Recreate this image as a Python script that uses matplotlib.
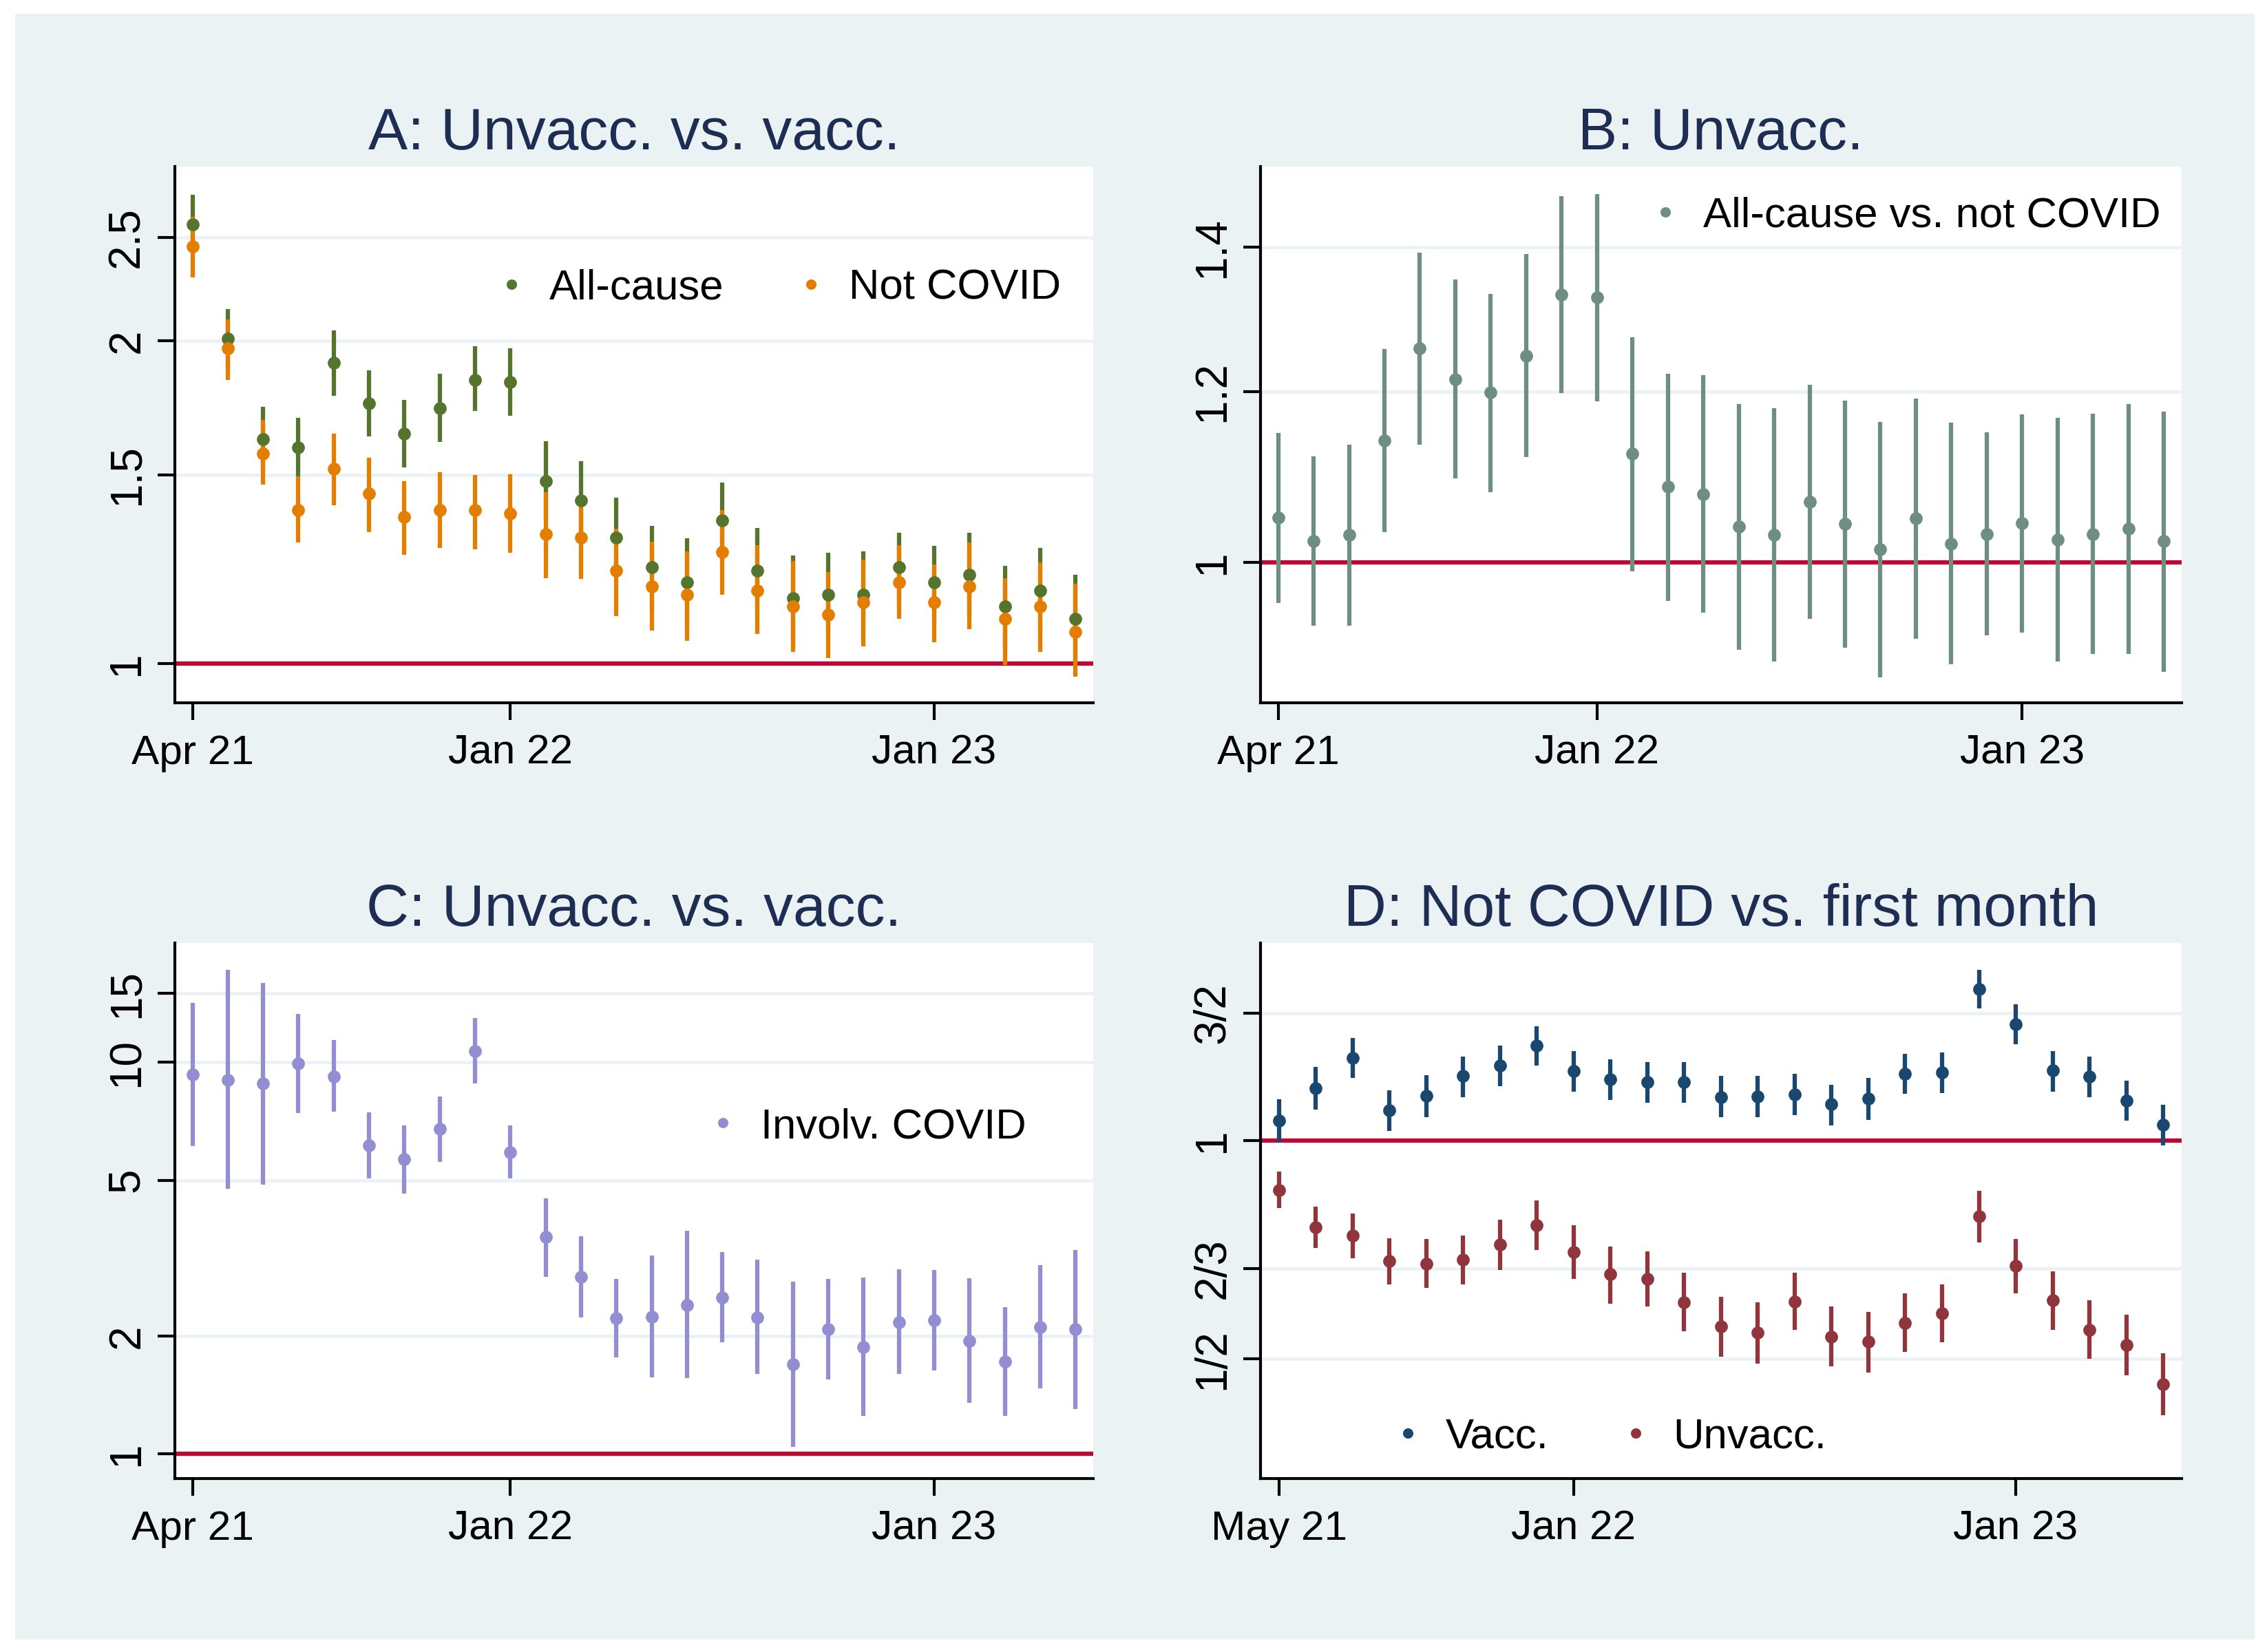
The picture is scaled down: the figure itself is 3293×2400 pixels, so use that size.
import numpy as np
import matplotlib
matplotlib.use('Agg')
import matplotlib.pyplot as plt
from matplotlib.lines import Line2D
from matplotlib.patches import Rectangle
from matplotlib.ticker import NullLocator

plt.rcParams['font.family'] = ['Liberation Sans', 'DejaVu Sans']

# colours (Stata s2color)
BG = '#EAF2F3'
NAVY_T = '#1E2D53'
RED = '#C10534'
GREEN = '#55752F'
ORANGE = '#E37E00'
TEAL = '#6E8E84'
LAVENDER = '#938DD2'
NAVY = '#1A476F'
MAROON = '#90353B'

# --- data: months Apr 2021 - May 2023 (panels A-C), May 2021 - May 2023 (D)
ticks_abc = [0, 9, 21]
ticklabels_abc = ['Apr 21', 'Jan 22', 'Jan 23']
ticks_d = [0, 8, 20]
ticklabels_d = ['May 21', 'Jan 22', 'Jan 23']

# A: unvacc vs vacc, all-cause
a_all = [2.57, 2.01, 1.62, 1.59, 1.91, 1.75, 1.64, 1.73, 1.84, 1.83, 1.48, 1.42, 1.31,
         1.23, 1.19, 1.36, 1.22, 1.15, 1.16, 1.16, 1.23, 1.19, 1.21, 1.13, 1.17, 1.10]
a_all_lo = [2.414, 1.887, 1.516, 1.495, 1.778, 1.628, 1.524, 1.610, 1.720, 1.704, 1.361, 1.310, 1.201,
            1.120, 1.084, 1.245, 1.114, 1.044, 1.067, 1.063, 1.139, 1.093, 1.108, 1.034, 1.068, 0.996]
a_all_hi = [2.737, 2.143, 1.736, 1.696, 2.047, 1.879, 1.762, 1.863, 1.979, 1.969, 1.613, 1.544, 1.428,
            1.344, 1.309, 1.475, 1.338, 1.261, 1.268, 1.273, 1.324, 1.287, 1.324, 1.233, 1.282, 1.210]
# A: not COVID
a_nc = [2.45, 1.97, 1.57, 1.39, 1.52, 1.44, 1.37, 1.39, 1.39, 1.38, 1.32, 1.31, 1.22,
        1.18, 1.16, 1.27, 1.17, 1.13, 1.11, 1.14, 1.19, 1.14, 1.18, 1.10, 1.13, 1.07]
a_nc_lo = [2.294, 1.840, 1.469, 1.297, 1.406, 1.327, 1.264, 1.281, 1.279, 1.268, 1.202, 1.200, 1.108,
           1.074, 1.050, 1.159, 1.065, 1.026, 1.011, 1.038, 1.100, 1.046, 1.076, 0.997, 1.025, 0.972]
a_nc_hi = [2.612, 2.096, 1.687, 1.495, 1.639, 1.556, 1.479, 1.508, 1.499, 1.502, 1.445, 1.436, 1.336,
           1.299, 1.273, 1.390, 1.289, 1.246, 1.218, 1.250, 1.289, 1.237, 1.297, 1.201, 1.242, 1.187]

# B: unvacc, all-cause vs not COVID
b_est = [1.049, 1.023, 1.030, 1.139, 1.257, 1.216, 1.199, 1.247, 1.331, 1.327, 1.123, 1.084, 1.076,
         1.039, 1.030, 1.067, 1.042, 1.014, 1.048, 1.020, 1.031, 1.043, 1.025, 1.031, 1.037, 1.023]
b_lo = [0.958, 0.935, 0.935, 1.033, 1.134, 1.094, 1.078, 1.119, 1.198, 1.188, 0.991, 0.960, 0.948,
        0.911, 0.900, 0.942, 0.913, 0.885, 0.922, 0.897, 0.925, 0.928, 0.900, 0.907, 0.907, 0.890]
b_hi = [1.148, 1.120, 1.134, 1.256, 1.392, 1.353, 1.332, 1.390, 1.478, 1.482, 1.272, 1.223, 1.221,
        1.184, 1.179, 1.209, 1.189, 1.162, 1.191, 1.161, 1.149, 1.171, 1.167, 1.172, 1.184, 1.175]

# C: unvacc vs vacc, involving COVID
c_est = [9.30, 9.03, 8.82, 9.95, 9.22, 6.14, 5.66, 6.77, 10.70, 5.90, 3.58, 2.83, 2.22,
         2.24, 2.40, 2.51, 2.23, 1.69, 2.08, 1.87, 2.17, 2.19, 1.94, 1.72, 2.11, 2.08]
c_lo = [6.12, 4.76, 4.87, 7.42, 7.48, 5.05, 4.63, 5.58, 8.82, 5.05, 2.83, 2.23, 1.76,
        1.57, 1.56, 1.93, 1.60, 1.04, 1.55, 1.25, 1.60, 1.63, 1.35, 1.25, 1.47, 1.30]
c_hi = [14.17, 17.23, 15.96, 13.31, 11.41, 7.46, 6.89, 8.19, 13.0, 6.89, 4.50, 3.59, 2.80,
        3.21, 3.71, 3.27, 3.13, 2.75, 2.80, 2.82, 2.96, 2.95, 2.81, 2.37, 3.03, 3.32]

# D: not COVID vs first month
d_vac = [1.065, 1.180, 1.300, 1.100, 1.152, 1.227, 1.268, 1.351, 1.246, 1.215, 1.203, 1.204, 1.149,
         1.151, 1.158, 1.122, 1.144, 1.236, 1.242, 1.617, 1.446, 1.249, 1.225, 1.135, 1.051]
d_vac_lo = [0.994, 1.103, 1.219, 1.031, 1.078, 1.149, 1.188, 1.268, 1.167, 1.137, 1.127, 1.127, 1.077,
            1.078, 1.084, 1.050, 1.069, 1.160, 1.164, 1.521, 1.357, 1.167, 1.149, 1.065, 0.984]
d_vac_hi = [1.141, 1.263, 1.386, 1.174, 1.232, 1.306, 1.351, 1.439, 1.328, 1.295, 1.282, 1.283, 1.227,
            1.227, 1.235, 1.195, 1.219, 1.318, 1.324, 1.719, 1.540, 1.330, 1.306, 1.210, 1.121]
d_unv = [0.855, 0.759, 0.740, 0.682, 0.677, 0.686, 0.719, 0.765, 0.702, 0.654, 0.645, 0.598, 0.554,
         0.543, 0.600, 0.537, 0.528, 0.561, 0.578, 0.786, 0.672, 0.602, 0.548, 0.523, 0.461]
d_unv_lo = [0.807, 0.711, 0.689, 0.633, 0.626, 0.634, 0.663, 0.706, 0.645, 0.596, 0.590, 0.546, 0.503,
            0.493, 0.548, 0.488, 0.479, 0.511, 0.527, 0.724, 0.616, 0.548, 0.500, 0.475, 0.418]
d_unv_hi = [0.906, 0.810, 0.793, 0.734, 0.731, 0.740, 0.778, 0.827, 0.764, 0.715, 0.704, 0.657, 0.609,
            0.598, 0.657, 0.590, 0.581, 0.615, 0.633, 0.853, 0.732, 0.660, 0.602, 0.575, 0.509]


def style(ax, title, yticks, ylabels, ylim, xlim, xticks, xlabels):
    ax.set_facecolor('white')
    ax.set_yscale('log')
    ax.set_ylim(ylim)
    ax.set_xlim(xlim)
    ax.set_yticks(yticks)
    ax.set_yticklabels(ylabels)
    ax.yaxis.set_minor_locator(NullLocator())
    ax.set_xticks(xticks)
    ax.set_xticklabels(xlabels)
    for t in yticks:
        ax.axhline(t, color=BG, lw=1.1, zorder=0.5)
    ax.axhline(1, color=RED, lw=1.5, zorder=1)
    for s in ['top', 'right']:
        ax.spines[s].set_visible(False)
    for s in ['left', 'bottom']:
        ax.spines[s].set_linewidth(1.0)
    ax.tick_params(axis='both', direction='out', length=6, width=1.0)
    ax.tick_params(axis='x', pad=5, labelsize=14.5)
    ax.tick_params(axis='y', pad=3.5, labelsize=15.3)
    for lab in ax.get_yticklabels():
        lab.set_rotation(90)
        lab.set_va('center')
    ax.set_title(title, fontsize=20.6, color=NAVY_T, pad=6)


def ci(ax, x, lo, hi, color, z=2):
    ax.vlines(x, lo, hi, color=color, lw=1.5, zorder=z)


def dots(ax, x, est, color, z=4):
    ax.plot(x, est, 'o', color=color, ms=4.5, mec='none', zorder=z)


def legend(ax, items, anchor):
    handles = [Line2D([], [], ls='none', marker='o', color=c, ms=3.6, mec='none') for c, _ in items]
    ax.legend(handles, [l for _, l in items], loc='center', bbox_to_anchor=anchor,
              ncol=len(items), frameon=False, fontsize=14.8, handlelength=0.5,
              handletextpad=0.64, columnspacing=1.8, borderpad=0, numpoints=1)


W, H = 3293, 2400
fig = plt.figure(figsize=(W / 300, H / 300), dpi=300)
fig.patch.set_facecolor('white')
fig.patches.append(Rectangle((22 / W, 18 / H), (3275 - 22) / W, (2380 - 18) / H,
                             transform=fig.transFigure, facecolor=BG, edgecolor='none', zorder=-10))

axA = fig.add_axes([0.0771, 0.5746, 0.4051, 0.3246])
axB = fig.add_axes([0.5560, 0.5746, 0.4063, 0.3246])
axC = fig.add_axes([0.0771, 0.1050, 0.4051, 0.3242])
axD = fig.add_axes([0.5560, 0.1050, 0.4063, 0.3242])

x26 = np.arange(len(a_all))
x25 = np.arange(len(d_vac))

# A
ci(axA, x26, a_all_lo, a_all_hi, GREEN, 2)
ci(axA, x26, a_nc_lo, a_nc_hi, ORANGE, 3)
dots(axA, x26, a_all, GREEN, 4)
dots(axA, x26, a_nc, ORANGE, 5)
style(axA, 'A: Unvacc. vs. vacc.', [1, 1.5, 2, 2.5], ['1', '1.5', '2', '2.5'],
      (0.919, 2.91), (-0.5, 25.5), ticks_abc, ticklabels_abc)
legend(axA, [(GREEN, 'All-cause'), (ORANGE, 'Not COVID')], (0.660, 0.773))

# B
ci(axB, x26, b_lo, b_hi, TEAL)
dots(axB, x26, b_est, TEAL)
style(axB, 'B: Unvacc.', [1, 1.2, 1.4], ['1', '1.2', '1.4'],
      (0.861, 1.526), (-0.5, 25.5), ticks_abc, ticklabels_abc)
legend(axB, [(TEAL, 'All-cause vs. not COVID')], (0.703, 0.908))

# C
ci(axC, x26, c_lo, c_hi, LAVENDER)
dots(axC, x26, c_est, LAVENDER)
style(axC, 'C: Unvacc. vs. vacc.', [1, 2, 5, 10, 15], ['1', '2', '5', '10', '15'],
      (0.864, 20.2), (-0.5, 25.5), ticks_abc, ticklabels_abc)
legend(axC, [(LAVENDER, 'Involv. COVID')], (0.756, 0.656))

# D
ci(axD, x25, d_vac_lo, d_vac_hi, NAVY, 2)
ci(axD, x25, d_unv_lo, d_unv_hi, MAROON, 3)
dots(axD, x25, d_vac, NAVY, 4)
dots(axD, x25, d_unv, MAROON, 5)
style(axD, 'D: Not COVID vs. first month', [1 / 2, 2 / 3, 1, 3 / 2], ['1/2', '2/3', '1', '3/2'],
      (0.342, 1.873), (-0.5, 24.5), ticks_d, ticklabels_d)
legend(axD, [(NAVY, 'Vacc.'), (MAROON, 'Unvacc.')], (0.3815, 0.0774))

fig.savefig('out.png', dpi=300, facecolor=fig.get_facecolor())
